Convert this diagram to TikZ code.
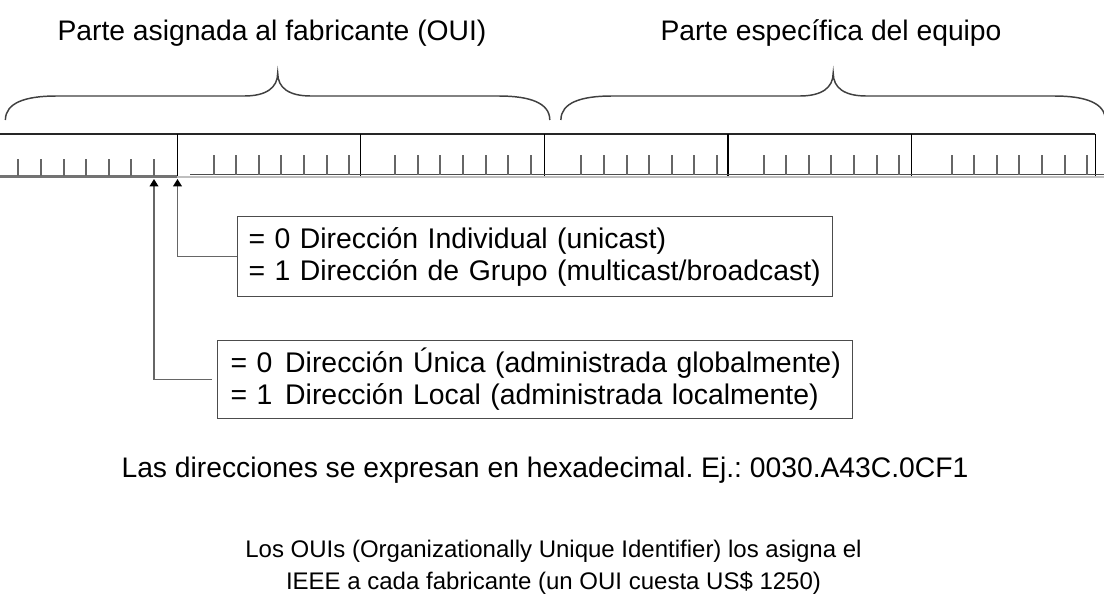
\documentclass[tikz,border=0pt]{standalone}
\usepackage{fontspec}
\setmainfont{Liberation Sans}
\usetikzlibrary{arrows.meta}
\frenchspacing
\begin{document}
\begin{tikzpicture}[x=0.75pt,y=-0.75pt,
  brace/.style={draw=black!75, line width=1.1pt},
  frame/.style={draw=black!85, line width=1.1pt},
  sepline/.style={draw=black, line width=1pt},
  tick/.style={draw=black!60, line width=1.5pt},
  conn/.style={draw=black!60, line width=1.1pt, -{Triangle[width=6.5pt,length=5.5pt,black]}},
  box/.style={draw=black!70, line width=0.9pt, rectangle, align=left, inner xsep=8.25pt, inner ysep=0pt, font=\fontsize{21.3}{24}\selectfont},
  lbl/.style={font=\fontsize{21.2}{24}\selectfont, inner sep=0pt, anchor=base},
  smalllbl/.style={font=\fontsize{18}{24}\selectfont, inner sep=0pt, anchor=base}]

\useasboundingbox[fill=white] (0,0) rectangle (1104,612);

% headings
\node[lbl] (h1) at (272,40.7) {Parte asignada al fabricante (OUI)};
\node[lbl] (h2) at (831,40.7) {Parte específica del equipo};

% braces
\foreach \o in {0,555.5}{
  \draw[brace, shift={(\o,0)}] (5.4,120) .. controls (5.4,103) and (25,96) .. (56,96)
    -- (244,96) .. controls (266,96) and (277.7,88) .. (277.7,73)
    .. controls (277.7,88) and (289,96) .. (311,96)
    -- (499,96) .. controls (530,96) and (549.8,103) .. (549.8,120);
}

% bit field frame
\draw[frame] (0,134) -- (1095.3,134);
\foreach \s in {177.3,360.6,544.4,727.9,911.5,1095.3}{
  \draw[sepline] (\s,134) -- (\s,176);
}
% bottom lines
\draw[draw=black!55, line width=2.2pt] (0,176.5) -- (177.3,176.5);
\draw[draw=black!25, line width=1.1pt] (177.3,177) -- (1104,177);
\draw[draw=black!70, line width=1.2pt] (190,174.5) -- (1104,174.5);

% ticks
\foreach \i in {0,...,6}{
  \draw[tick] ({18.3+22.6*\i},159) -- ({18.3+22.6*\i},176);
}
\foreach \f in {213.5,395.2,581.4,763.6,951.5}{
  \foreach \i in {0,...,6}{
    \draw[tick] ({\f+22.6*\i},155) -- ({\f+22.6*\i},175);
  }
}

% boxes
\node[box, text width=429.75pt, minimum height=60pt, anchor=north west] (b1) at (237,216)
  {\mbox{= 0 Dirección Individual (unicast)}\\\mbox{= 1 Dirección de Grupo (multicast/broadcast)}};
\node[box, text width=456.75pt, inner xsep=9.75pt, minimum height=58.5pt, anchor=north west] (b2) at (217,340)
  {\mbox{= 0\hspace{0.45em}Dirección Única (administrada globalmente)}\\\mbox{= 1\hspace{0.45em}Dirección Local (administrada localmente)}};

% connectors
\coordinate (bitA) at (177.5,179);
\coordinate (bitB) at (154,179);
\draw[conn] (b1.west) -| (bitA);
\draw[conn, shorten <=3.75pt] (b2.west) -| (bitB);

% bottom texts
\node[lbl] (hex) at (545,477.3) {Las direcciones se expresan en hexadecimal. Ej.: 0030.A43C.0CF1};
\node[smalllbl] (oui1) at (553.5,557) {Los OUIs (Organizationally Unique Identifier) los asigna el};
\node[smalllbl] (oui2) at (553.5,589) {IEEE a cada fabricante (un OUI cuesta US\$ 1250)};
\end{tikzpicture}
\end{document}
